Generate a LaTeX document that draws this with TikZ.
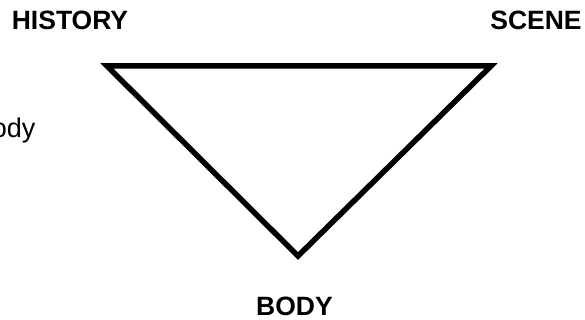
\documentclass[tikz,border=0pt]{standalone}
\usepackage{fontspec}
\setmainfont{Liberation Sans}

\begin{document}
\begin{tikzpicture}[
                x=1pt, y=-1pt,
                side/.style={line width=5.5pt, line join=miter},
                tag/.style={inner sep=0pt, anchor=base, font=\fontsize{26.5}{30}\selectfont\bfseries},
                note/.style={inner sep=0pt, anchor=base east, font=\fontsize{27}{30}\selectfont}
            ]
                \useasboundingbox (0,0) rectangle (585,320);

                % Corners
                \coordinate (history) at (107,66);
                \coordinate (scene) at (491,66);
                \coordinate (body) at (298,256);

                % Triangle
                \draw[side] (history) -- (scene) -- (body) -- cycle;

                % Labels
                \node[tag] (history_lbl) at (70,29.5) {HISTORY};
                \node[tag] (scene_lbl) at (536,29.5) {SCENE};
                \node[tag] (body_lbl) at (294.5,315.5) {BODY};
                \node[note] (body_note) at (35.5,138) {Body};
            \end{tikzpicture}
\end{document}
